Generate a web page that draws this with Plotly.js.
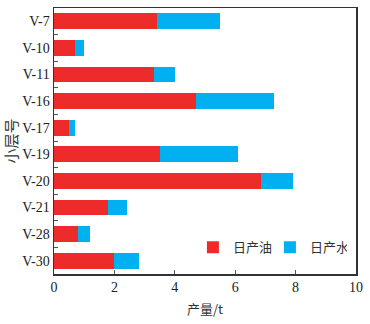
<!DOCTYPE html>
<html><head><meta charset="utf-8">
<script src="https://cdn.plot.ly/plotly-3.0.1.min.js"></script>
<style>html,body{margin:0;padding:0;background:#fff}#c{width:370px;height:324px}</style>
</head><body><div id="c"></div>
<script>
const layers = ['V-7','V-10','V-11','V-16','V-17','V-19','V-20','V-21','V-28','V-30'];
const oil = [3.4, 0.7, 3.3, 4.7, 0.5, 3.5, 6.85, 1.8, 0.8, 2.0];
const water = [2.1, 0.3, 0.7, 2.6, 0.2, 2.6, 1.05, 0.62, 0.4, 0.8];
const seriesNames = ['日产油', '日产水'];
const xTicks = [0, 2, 4, 6, 8, 10];

const serif = 'Liberation Serif, Times New Roman, serif';
const cjk = 'Noto Sans CJK SC, sans-serif';
const traces = [
  {type:'bar', orientation:'h', y:layers, x:oil, name:seriesNames[0], marker:{color:'#EE2B2B'}, width:0.6},
  {type:'bar', orientation:'h', y:layers, x:water, name:seriesNames[1], marker:{color:'#00B0F0'}, width:0.6}
];
const layout = {
  width:370, height:324, barmode:'stack',
  margin:{l:54, r:14, t:8, b:50, autoexpand:false},
  paper_bgcolor:'#fff', plot_bgcolor:'#fff',
  showlegend:true,
  legend:{orientation:'h', x:0.46, y:0.1, xanchor:'left', yanchor:'middle', font:{family:cjk, size:13, color:'#333'},
    traceorder:'normal', itemwidth:30, entrywidth:32, bgcolor:'rgba(0,0,0,0)'},
  xaxis:{range:[0,10], tickvals:xTicks, ticks:'inside', ticklen:4, tickcolor:'#555', showgrid:false, zeroline:false,
    showline:true, linecolor:'#333', linewidth:1.5, mirror:true,
    tickfont:{family:serif, size:14, color:'#222'},
    title:{text:'产量/t', font:{family:cjk, size:13, color:'#333'}, standoff:10}},
  yaxis:{autorange:'reversed', ticks:'inside', tickson:'boundaries', ticklen:4, tickcolor:'#555', showgrid:false, zeroline:false,
    showline:true, linecolor:'#333', linewidth:1.5, mirror:true,
    tickfont:{family:serif, size:14, color:'#222'},
    title:{text:'小层号', font:{family:cjk, size:15, color:'#333'}, standoff:8}}
};
Plotly.newPlot('c', traces, layout, {displayModeBar:false, staticPlot:true});
</script></body></html>
